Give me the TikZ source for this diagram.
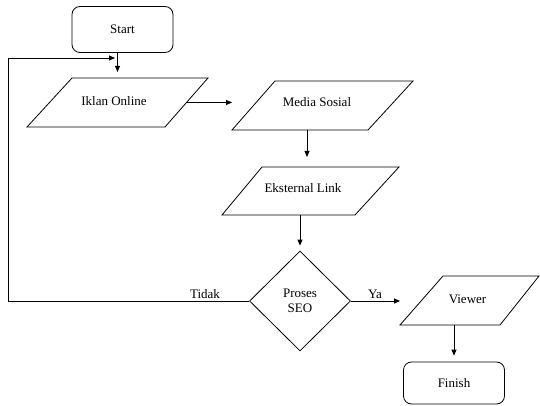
\documentclass[tikz,border=0pt]{standalone}
\usepackage{fontspec}
\setmainfont{Liberation Serif}
\newfontfamily\tnr{Liberation Serif}
\usetikzlibrary{shapes.geometric,arrows.meta}
% parallelogram: name, tl x, tr x, top y, bl x, br x, bottom y
\newcommand\mypara[7]{%
  \coordinate (#1-tl) at (#2,#4);
  \coordinate (#1-tr) at (#3,#4);
  \coordinate (#1-bl) at (#5,#7);
  \coordinate (#1-br) at (#6,#7);
  \coordinate (#1-r) at ($(#1-tr)!0.5!(#1-br)$);
  \coordinate (#1-l) at ($(#1-tl)!0.5!(#1-bl)$);
  \draw[shape line] (#1-tl) -- (#1-tr) -- (#1-br) -- (#1-bl) -- cycle;
}
\usetikzlibrary{calc}
\begin{document}
\begin{tikzpicture}[x=1pt,y=-1pt,
  font={\tnr\fontsize{13}{15}\selectfont},
  shape line/.style={line width=0.8pt, line join=miter},
  term/.style={draw, rounded corners=8pt, minimum width=101pt, minimum height=46pt, line width=0.8pt},
  dec/.style={draw, diamond, minimum width=101pt, minimum height=100pt, inner sep=0pt, align=center, line width=0.8pt},
  txt/.style={inner sep=0pt},
  arr/.style={-{Triangle[length=6pt,width=5pt]}, line width=0.8pt},
  lbl/.style={anchor=base, inner sep=0pt}]
\useasboundingbox (0,0) rectangle (540,406);
\node[term] (start) at (122.5,29.5) {Start};

\mypara{iklan}{72}{208}{78}{27}{165}{127}
\node[txt] (iklanT) at (114,101) {Iklan Online};

\mypara{media}{275}{413}{81}{232}{368}{130}
\node[txt] (mediaT) at (317,102) {Media Sosial};

\mypara{eks}{262}{399}{167}{222}{355}{215}
\node[txt] (eksT) at (303,188) {Eksternal Link};

\node[dec] (seo) at (300,301) {Proses\\SEO};

\mypara{viewer}{443}{539}{276}{400}{500}{325}
\node[txt] (viewerT) at (467.5,299) {Viewer};

\node[term, minimum height=42pt] (finish) at (454,383) {Finish};

\coordinate (loopL) at (8.6,301);
\coordinate (loopT) at (8.6,58);
\coordinate (loopE) at (115,58);
\coordinate (s2i) at (117.5,78);
\coordinate (m2e) at (307,157);
\coordinate (e2s) at (300,215);

\draw[arr, shorten >=6pt] (start.south -| s2i) -- (s2i);
\draw[arr] (iklan-r) -- (iklan-r -| media-bl);
\draw[arr] (media-bl -| m2e) -- (m2e);
\draw[arr, shorten >=5pt] (e2s) -- (seo.north);
\draw[arr] (seo.east) -- (seo.east -| viewer-bl);
\draw[arr, shorten >=6pt] (viewer-bl -| finish.north) -- (finish.north);
\draw[arr] (seo.west) -- (loopL) -- (loopT) -- (loopE);

\node[lbl] (tidak) at (205,298) {Tidak};
\node[lbl] (ya) at (375,298) {Ya};
\end{tikzpicture}
\end{document}
